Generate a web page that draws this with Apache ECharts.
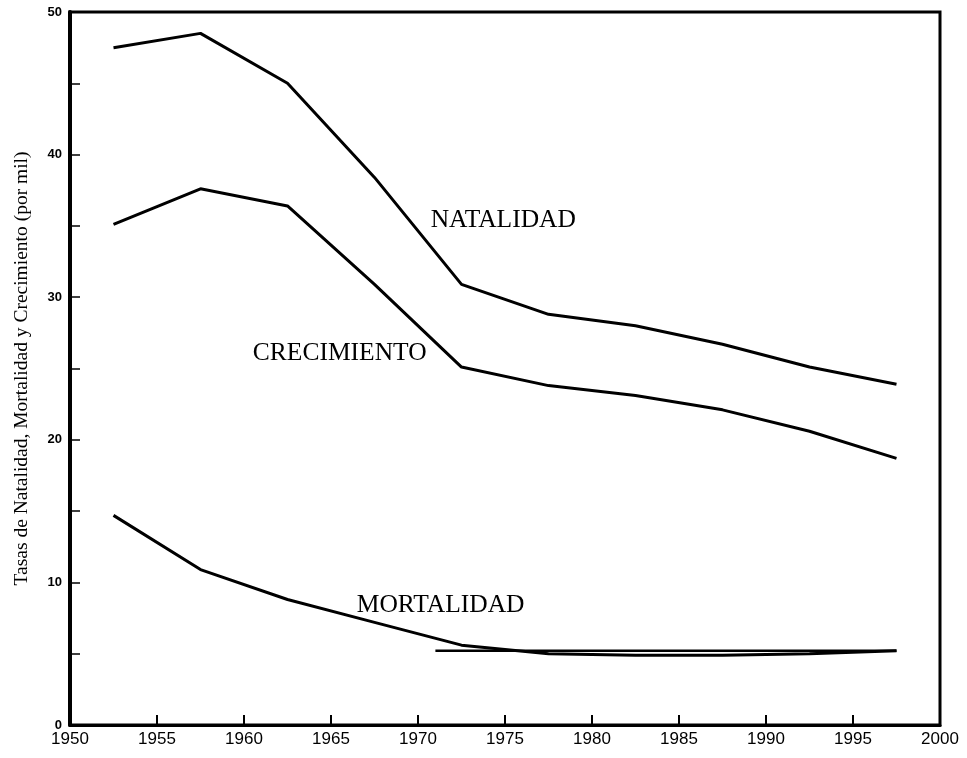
<!DOCTYPE html>
<html>
<head>
<meta charset="utf-8">
<script src="https://cdn.jsdelivr.net/npm/echarts@6/dist/echarts.min.js"></script>
<style>html,body{margin:0;padding:0;background:#fff}#c{width:967px;height:758px}</style>
</head>
<body>
<div id="c"></div>
<script>
var years = [1952.5, 1957.5, 1962.5, 1967.5, 1972.5, 1977.5, 1982.5, 1987.5, 1992.5, 1997.5];
var natalidad = [47.5, 48.5, 45.0, 38.4, 30.9, 28.8, 28.0, 26.7, 25.1, 23.9];
var crecimiento = [35.1, 37.6, 36.4, 30.9, 25.1, 23.8, 23.1, 22.1, 20.6, 18.7];
var mortalidad = [14.7, 10.9, 8.8, 7.2, 5.6, 5.0, 4.9, 4.9, 5.0, 5.2];
var refLineX = [1971, 1997.5];
var refLineY = [5.2, 5.2];
var xTicks = [1950, 1955, 1960, 1965, 1970, 1975, 1980, 1985, 1990, 1995, 2000];
var yTicks = [0, 10, 20, 30, 40, 50];
var seriesNames = ['NATALIDAD', 'CRECIMIENTO', 'MORTALIDAD'];

function pairs(xs, ys) { return xs.map(function (x, i) { return [x, ys[i]]; }); }

var lineStyle = { color: '#000', width: 3 };
var labelFont = { fontFamily: 'Liberation Serif', fontSize: 25.5, color: '#000' };

var chart = echarts.init(document.getElementById('c'), null, { renderer: 'canvas' });
chart.setOption({
  animation: false,
  backgroundColor: '#fff',
  grid: { left: 70, right: 27, top: 12, bottom: 33, show: true, borderColor: '#000', borderWidth: 3 },
  xAxis: {
    type: 'value', min: xTicks[0], max: xTicks[xTicks.length - 1], interval: 5,
    axisLine: { lineStyle: { color: '#000', width: 3 } },
    axisTick: { inside: true, length: 10, lineStyle: { color: '#000', width: 2 } },
    axisLabel: { color: '#000', fontFamily: 'Liberation Sans', fontSize: 17, margin: 6,
      formatter: function (v) { return String(v); } },
    splitLine: { show: false }
  },
  yAxis: {
    type: 'value', min: yTicks[0], max: yTicks[yTicks.length - 1], interval: 5,
    name: 'Tasas de Natalidad, Mortalidad y Crecimiento (por mil)',
    nameLocation: 'middle', nameGap: 38,
    nameTextStyle: { fontFamily: 'Liberation Serif', fontSize: 19.5, color: '#000' },
    axisLine: { lineStyle: { color: '#000', width: 4 } },
    axisTick: { inside: true, length: 10, lineStyle: { color: '#000', width: 1.5 } },
    axisLabel: {
      color: '#000', fontFamily: 'Liberation Sans', fontWeight: 'bold', fontSize: 13, margin: 8,
      formatter: function (v) { return yTicks.indexOf(v) >= 0 ? String(v) : ''; }
    },
    splitLine: { show: false }
  },
  series: [
    { type: 'line', name: seriesNames[0], data: pairs(years, natalidad), symbol: 'none', lineStyle: lineStyle,
      markPoint: { symbol: 'circle', symbolSize: 0, label: Object.assign({ show: true, position: 'inside', formatter: seriesNames[0] }, labelFont),
        data: [{ coord: [1974.9, 35.4] }] } },
    { type: 'line', name: seriesNames[1], data: pairs(years, crecimiento), symbol: 'none', lineStyle: lineStyle,
      markPoint: { symbol: 'circle', symbolSize: 0, label: Object.assign({ show: true, position: 'inside', formatter: seriesNames[1] }, labelFont),
        data: [{ coord: [1965.5, 26.1] }] } },
    { type: 'line', name: seriesNames[2], data: pairs(years, mortalidad), symbol: 'none', lineStyle: lineStyle,
      markPoint: { symbol: 'circle', symbolSize: 0, label: Object.assign({ show: true, position: 'inside', formatter: seriesNames[2] }, labelFont),
        data: [{ coord: [1971.3, 8.4] }] } },
    { type: 'line', name: 'ref', data: pairs(refLineX, refLineY), symbol: 'none', lineStyle: { color: '#000', width: 2.5 } }
  ]
});
</script>
</body>
</html>
